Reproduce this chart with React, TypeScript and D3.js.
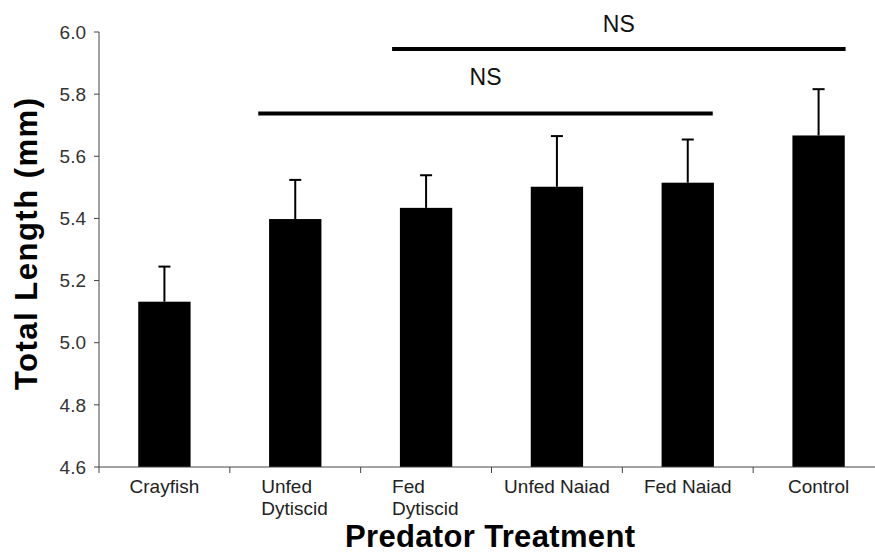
import React from "react";
import * as d3 from "d3";

const categories = ["Crayfish", "Unfed Dytiscid", "Fed Dytiscid", "Unfed Naiad", "Fed Naiad", "Control"];
const labelLines = [["Crayfish"], ["Unfed", "Dytiscid"], ["Fed", "Dytiscid"], ["Unfed Naiad"], ["Fed Naiad"], ["Control"]];
const means = [5.132, 5.398, 5.434, 5.502, 5.515, 5.667];
const errors = [0.113, 0.126, 0.105, 0.163, 0.139, 0.149];
const yTicks = [4.6, 4.8, 5.0, 5.2, 5.4, 5.6, 5.8, 6.0];
// significance brackets: [from category, to category, y value]
const sigFrom = ["Unfed Dytiscid", "Fed Dytiscid"];
const sigTo = ["Fed Naiad", "Control"];
const sigY = [5.738, 5.945];
const sigLabel = ["NS", "NS"];

export default function App() {
  const W = 875, H = 553;
  const left = 99, right = 884, top = 32, bottom = 467;
  const x = d3.scaleBand<string>().domain(categories).range([left, right]).paddingInner(0.6).paddingOuter(0.3);
  const xb = d3.scaleBand<string>().domain(categories).range([left, right]);
  const y = d3.scaleLinear().domain([4.6, 6.0]).range([bottom, top]);
  const bw = x.bandwidth();
  const axisColor = "#444";
  const font = "'Liberation Sans', Arial, sans-serif";
  const sigOffsets = [[-37, 25], [-34, 27]];
  const textOff = [[0, -28], [0, -17]];
  return (
    <svg width={W} height={H} style={{ position: "absolute", left: 0, top: 0, background: "#fff" }} fontFamily={font}>
      {/* bars */}
      {categories.map((c, i) => {
        const cx = xb(c)! + xb.bandwidth() / 2;
        return (
          <g key={c}>
            <rect x={cx - bw / 2} y={y(means[i])} width={bw} height={bottom - y(means[i])} fill="#000" />
            <line x1={cx} x2={cx} y1={y(means[i])} y2={y(means[i] + errors[i])} stroke="#000" strokeWidth={2} />
            <line x1={cx - 6} x2={cx + 6} y1={y(means[i] + errors[i])} y2={y(means[i] + errors[i])} stroke="#000" strokeWidth={2} />
          </g>
        );
      })}
      {/* y axis */}
      <line x1={left} x2={left} y1={top} y2={bottom} stroke={axisColor} strokeWidth={1} />
      {yTicks.map((t) => (
        <g key={t}>
          <line x1={left - 5} x2={left} y1={y(t)} y2={y(t)} stroke={axisColor} />
          <text x={left - 13} y={y(t)} dy="0.35em" textAnchor="end" fontSize={19} fill="#333">{t.toFixed(1)}</text>
        </g>
      ))}
      {/* x axis */}
      <line x1={left} x2={right} y1={bottom} y2={bottom} stroke={axisColor} />
      {categories.map((c) => (
        <line key={c} x1={xb(c)!} x2={xb(c)!} y1={bottom} y2={bottom + 6} stroke={axisColor} />
      ))}
      {categories.map((c, i) => {
        const cx = xb(c)! + xb.bandwidth() / 2;
        const lines = labelLines[i];
        if (lines.length === 1) {
          return <text key={c} x={cx} y={493} textAnchor="middle" fontSize={19} fill="#222">{lines[0]}</text>;
        }
        return (
          <text key={c} x={cx - 34} y={493} fontSize={19} fill="#222">
            {lines.map((l, j) => (
              <tspan key={j} x={cx - 34} y={493 + j * 22}>{l}</tspan>
            ))}
          </text>
        );
      })}
      {/* significance */}
      {sigFrom.map((f, i) => {
        const x1 = xb(f)! + xb.bandwidth() / 2 + sigOffsets[i][0];
        const x2 = xb(sigTo[i])! + xb.bandwidth() / 2 + sigOffsets[i][1];
        return (
          <g key={i}>
            <line x1={x1} x2={x2} y1={y(sigY[i])} y2={y(sigY[i])} stroke="#000" strokeWidth={4} />
            <text x={(x1 + x2) / 2 + textOff[i][0]} y={y(sigY[i]) + textOff[i][1]} textAnchor="middle" fontSize={23} fill="#111">{sigLabel[i]}</text>
          </g>
        );
      })}
      {/* titles */}
      <text x={345} y={547} fontSize={31} fontWeight="bold" fill="#000" textLength={290} lengthAdjust="spacing">Predator Treatment</text>
      <text transform={`translate(37,390) rotate(-90)`} fontSize={31} fontWeight="bold" fill="#000" textLength={292} lengthAdjust="spacing">Total Length (mm)</text>
    </svg>
  );
}
